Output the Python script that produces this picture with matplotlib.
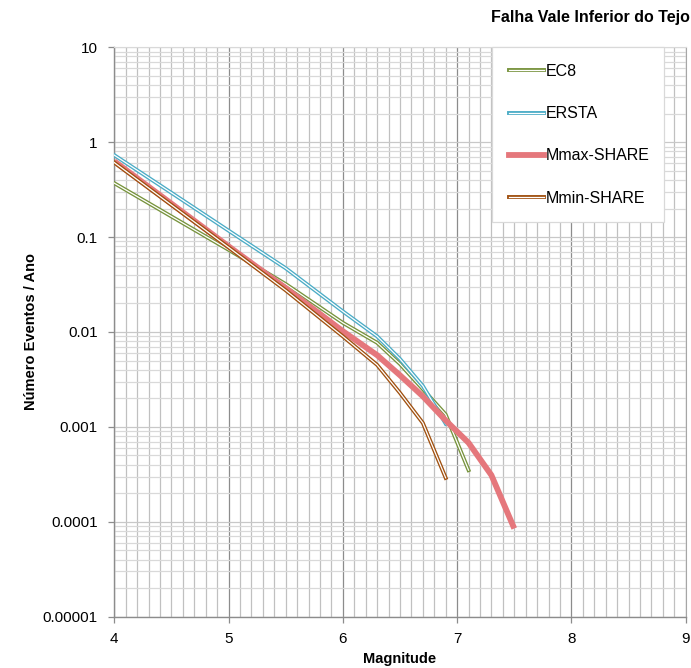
import matplotlib
matplotlib.use("Agg")
import matplotlib.pyplot as plt
from matplotlib.lines import Line2D
from matplotlib.legend_handler import HandlerTuple
from matplotlib.ticker import MultipleLocator, LogLocator, FixedLocator, FixedFormatter, NullFormatter

plt.rcParams['font.family'] = ['Liberation Sans', 'DejaVu Sans']

# magnitudes (x) and annual number of events (y)
mag = [4.0, 4.5, 5.0, 5.5, 6.0, 6.3, 6.5, 6.7, 6.9, 7.1, 7.3, 7.5]

ec8 = [0.37, 0.165, 0.0735, 0.032, 0.0125, 0.0077, 0.0046, 0.0025, 0.00135, 0.00035]
ersta = [0.73, 0.293, 0.117, 0.047, 0.0165, 0.0090, 0.0052, 0.0027, 0.00108]
mmax_share = [0.63, 0.225, 0.080, 0.029, 0.0102, 0.0057, 0.0035, 0.0021, 0.00117, 0.00068, 0.00031, 0.000085]
mmin_share = [0.61, 0.218, 0.078, 0.0275, 0.0090, 0.0045, 0.00228, 0.0011, 0.00029]

names = ["EC8", "ERSTA", "Mmax-SHARE", "Mmin-SHARE"]
colors = ["#77933C", "#4BACC6", "#E5777C", "#A0500F"]

ytick_vals = [0.00001, 0.0001, 0.001, 0.01, 0.1, 1, 10]
ytick_labels = ["0.00001", "0.0001", "0.001", "0.01", "0.1", "1", "10"]

fig = plt.figure(figsize=(6.91, 6.68), dpi=100)
ax = fig.add_axes([0.1654, 0.0768, 0.8269, 0.8524])

ax.set_yscale("log")
ax.set_xlim(4, 9)
ax.set_ylim(0.00001, 10)

# grid
ax.xaxis.set_major_locator(MultipleLocator(1))
ax.xaxis.set_minor_locator(MultipleLocator(0.1))
ax.yaxis.set_major_locator(FixedLocator(ytick_vals))
ax.yaxis.set_major_formatter(FixedFormatter(ytick_labels))
ax.yaxis.set_minor_locator(LogLocator(base=10, subs=range(2, 10), numticks=20))
ax.yaxis.set_minor_formatter(NullFormatter())

ax.grid(which="major", axis="x", color="#8c8c8c", lw=0.9)
ax.grid(which="minor", axis="x", color="#c0c0c0", lw=0.9)
ax.grid(which="major", axis="y", color="#c8c8c8", lw=0.9)
ax.grid(which="minor", axis="y", color="#d9d9d9", lw=0.9)
ax.set_axisbelow(True)

ax.tick_params(which="major", length=4, width=0.9, color="#8c8c8c", labelsize=11, pad=7)
ax.tick_params(axis="y", which="major", pad=8)
ax.tick_params(which="minor", length=0)

for side in ["left", "bottom"]:
    ax.spines[side].set_color("#8c8c8c")
    ax.spines[side].set_linewidth(1.0)
ax.spines["top"].set_color("#d9d9d9")
ax.spines["right"].set_color("#a6a6a6")

# series: double lines for EC8, ERSTA, Mmin; thick solid for Mmax
handles = []
series = [ec8, ersta, mmax_share, mmin_share]
for vals, name, col in zip(series, names, colors):
    x = mag[:len(vals)]
    if name == "Mmax-SHARE":
        ax.plot(x, vals, color=col, lw=4.2, solid_capstyle="butt", zorder=3)
        handles.append(Line2D([], [], color=col, lw=4.2))
    else:
        ax.plot(x, vals, color=col, lw=2.8, zorder=3)
        ax.plot(x, vals, color="white", lw=0.9, zorder=3)
        handles.append((Line2D([], [], color=col, lw=2.8),
                        Line2D([], [], color="white", lw=0.9)))

leg = ax.legend(handles, names, loc="upper left", bbox_to_anchor=(0.661, 0.0, 0.301, 1.0),
                mode="expand", fontsize=11.5, handlelength=2.2, handletextpad=0.1,
                labelspacing=1.7, borderpad=1.05, borderaxespad=0, fancybox=False,
                framealpha=1, edgecolor="#d9d9d9",
                handler_map={tuple: HandlerTuple(ndivide=1, pad=0)})
leg.get_frame().set_linewidth(0.9)

ax.set_xlabel("Magnitude", fontsize=10.5, fontweight="bold", labelpad=4)
ax.set_ylabel("Número Eventos / Ano", fontsize=10.5, fontweight="bold", labelpad=3)

fig.text(0.998, 0.974, "Falha Vale Inferior do Tejo", ha="right", va="center",
         fontsize=11.5, fontweight="bold")

fig.savefig("out.png", dpi=100)
